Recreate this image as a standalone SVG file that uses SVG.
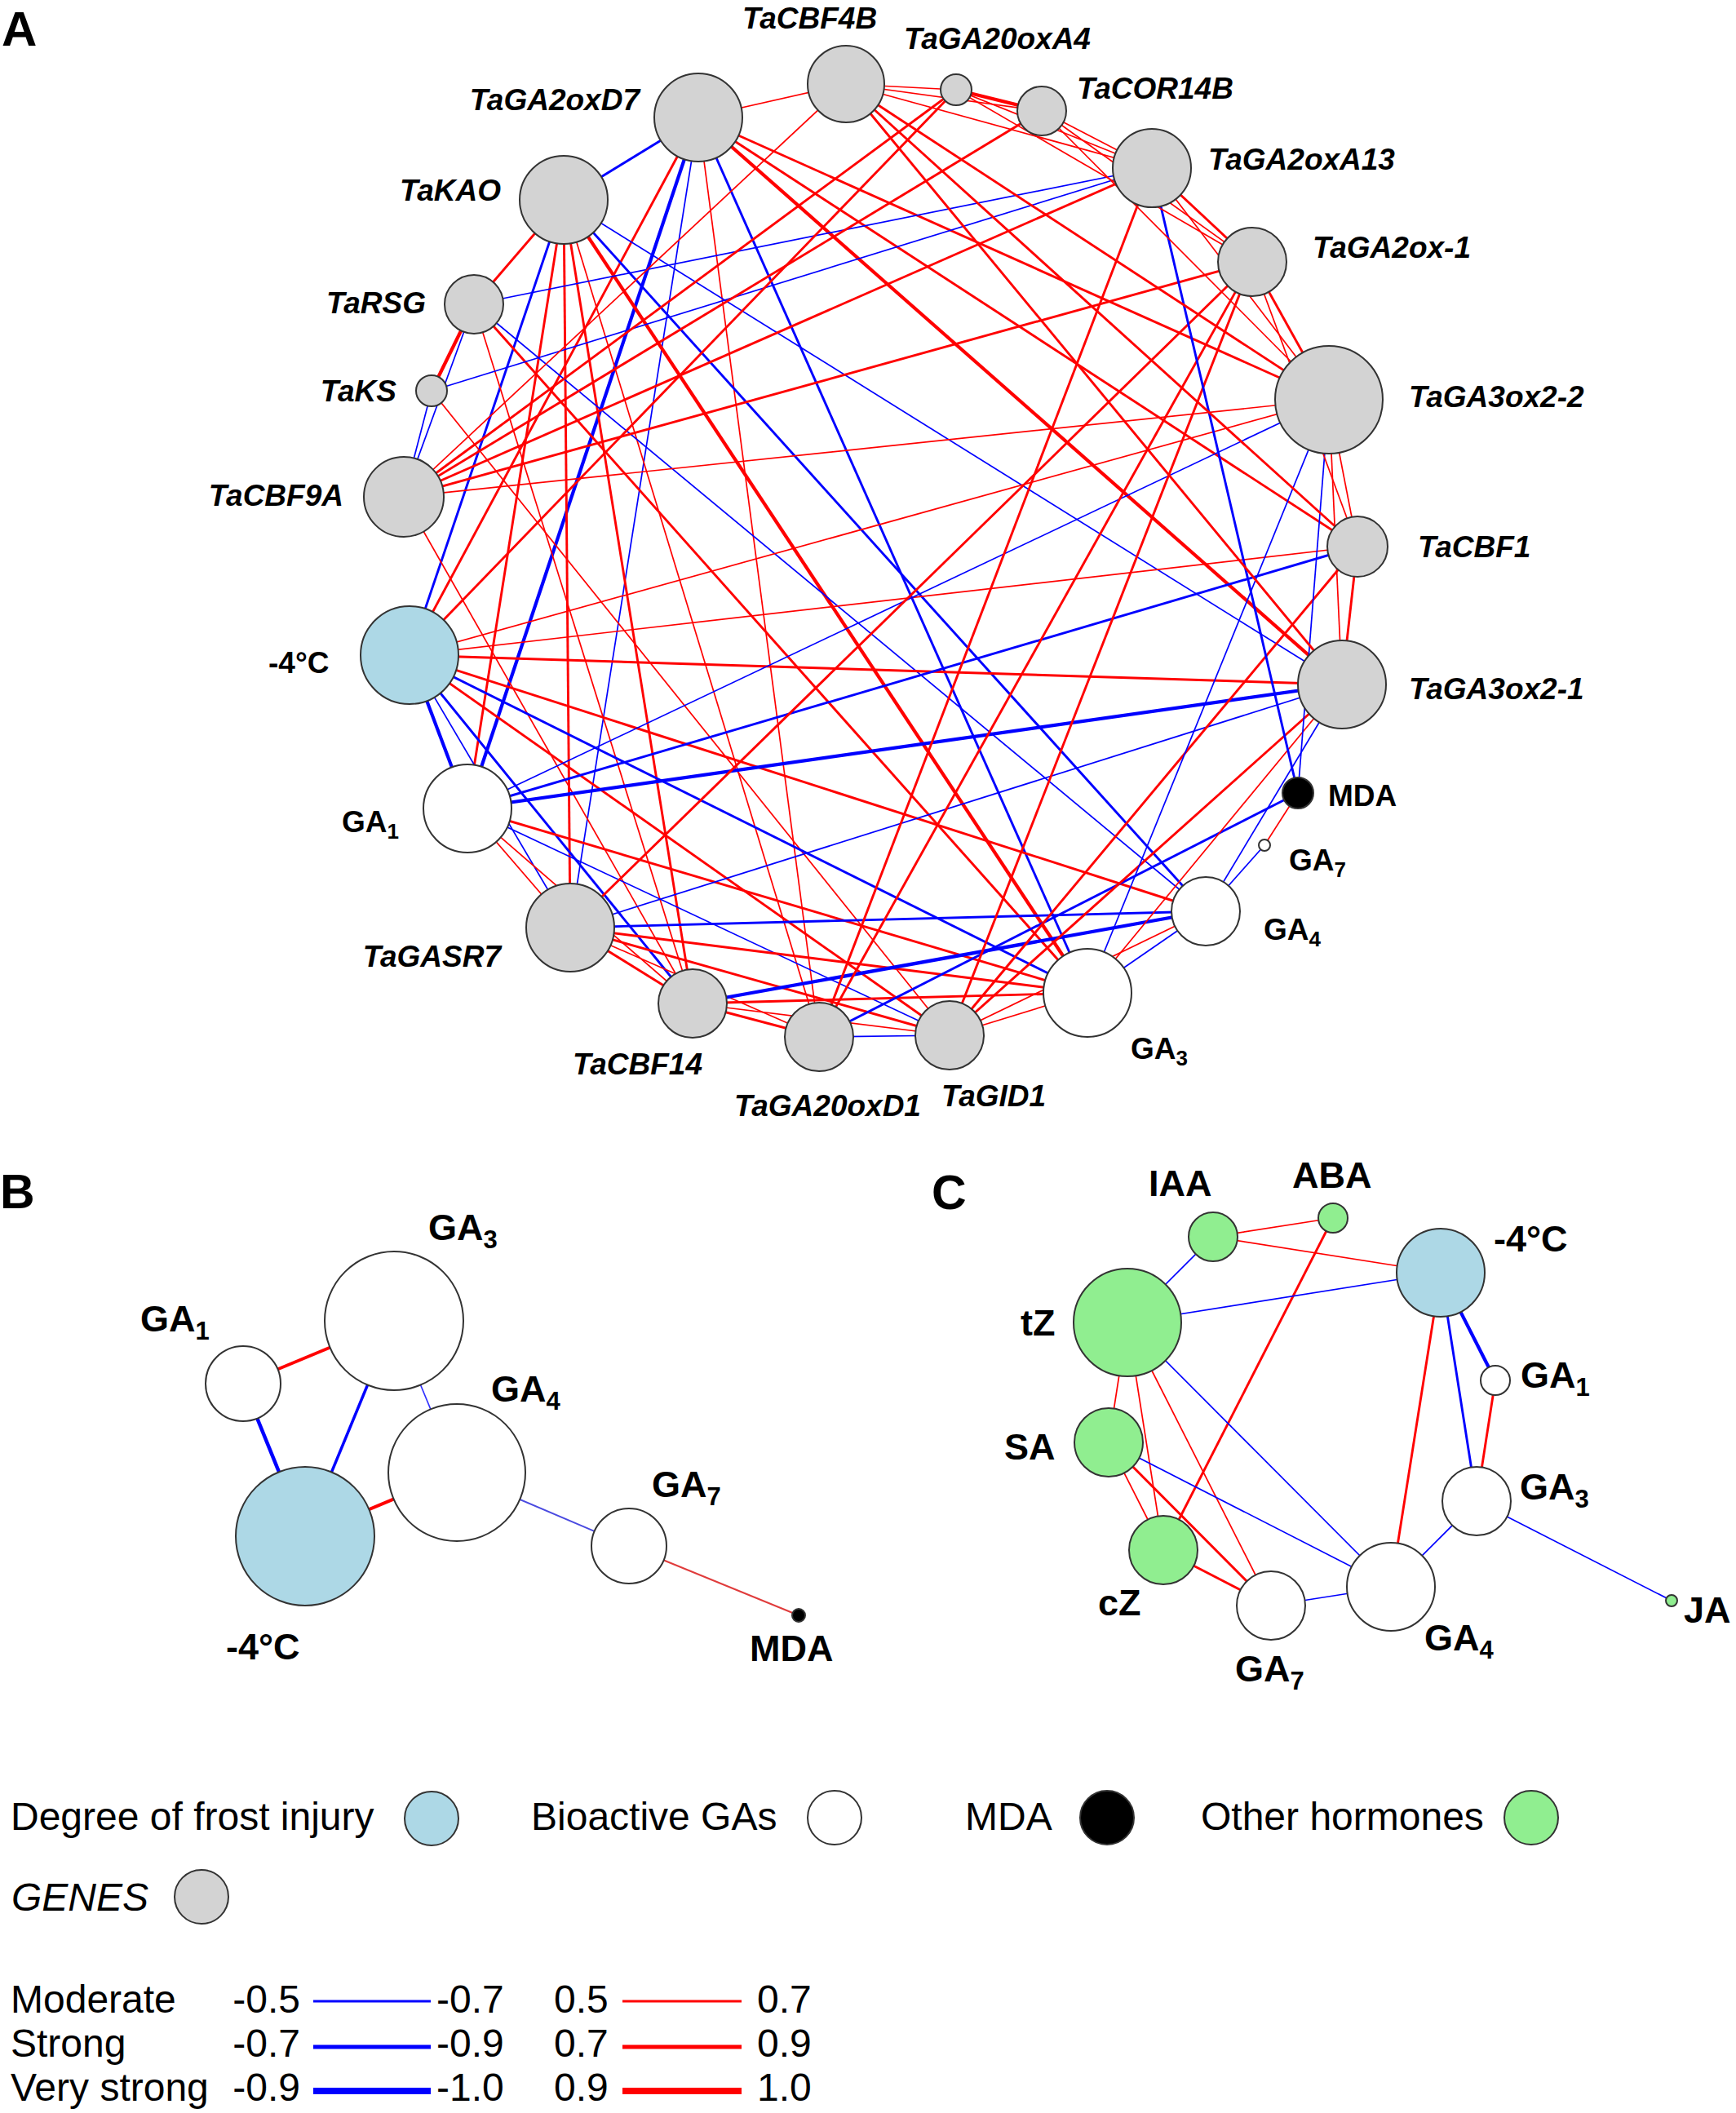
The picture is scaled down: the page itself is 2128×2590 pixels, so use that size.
<svg xmlns="http://www.w3.org/2000/svg" width="2128" height="2590" viewBox="0 0 2128 2590">
<style>
.r1{stroke:#ff0000;stroke-width:1.7}
.r2{stroke:#ff0000;stroke-width:2.9}
.r3{stroke:#ff0000;stroke-width:4.2}
.b1{stroke:#0000ff;stroke-width:1.7}
.b2{stroke:#0000ff;stroke-width:2.9}
.b3{stroke:#0000ff;stroke-width:4.2}
circle{stroke:#333;stroke-width:2}
.gy{fill:#d3d3d3}.wh{fill:#ffffff}.ice{fill:#add8e6}.grn{fill:#90ee90}.blk{fill:#000000}
text{font-family:"Liberation Sans",Arial,sans-serif;fill:#000}
.gi{font-size:37px;font-weight:bold;font-style:italic}
.gb{font-size:37px;font-weight:bold}
.pb{font-size:45px;font-weight:bold}
.pl{font-weight:bold}
.lg{font-size:48px}
</style>
<rect width="2128" height="2590" fill="#ffffff"/>

<text class="pl" x="2" y="56" font-size="60">A</text>
<text class="pl" x="0" y="1481" font-size="59">B</text>
<text class="pl" x="1142" y="1482" font-size="59">C</text>

<g id="connectors-A" fill="none">
<line class="b2" x1="856" y1="144" x2="691" y2="245"/>
<line class="r1" x1="856" y1="144" x2="1037" y2="103"/>
<line class="r2" x1="856" y1="144" x2="502" y2="803"/>
<line class="b3" x1="856" y1="144" x2="573" y2="991"/>
<line class="b1" x1="856" y1="144" x2="699" y2="1137"/>
<line class="r1" x1="856" y1="144" x2="1004" y2="1271"/>
<line class="b2" x1="856" y1="144" x2="1333" y2="1217"/>
<line class="r3" x1="856" y1="144" x2="1645" y2="839"/>
<line class="r2" x1="856" y1="144" x2="1664" y2="670"/>
<line class="r2" x1="856" y1="144" x2="1629" y2="490"/>
<line class="r2" x1="691" y1="245" x2="581" y2="373"/>
<line class="b2" x1="691" y1="245" x2="502" y2="803"/>
<line class="r2" x1="691" y1="245" x2="573" y2="991"/>
<line class="r2" x1="691" y1="245" x2="699" y2="1137"/>
<line class="r2" x1="691" y1="245" x2="849" y2="1230"/>
<line class="r1" x1="691" y1="245" x2="1004" y2="1271"/>
<line class="r3" x1="691" y1="245" x2="1333" y2="1217"/>
<line class="b2" x1="691" y1="245" x2="1478" y2="1117"/>
<line class="b1" x1="691" y1="245" x2="1645" y2="839"/>
<line class="b1" x1="581" y1="373" x2="495" y2="609"/>
<line class="b1" x1="581" y1="373" x2="1412" y2="206"/>
<line class="r1" x1="581" y1="373" x2="849" y2="1230"/>
<line class="r2" x1="581" y1="373" x2="1333" y2="1217"/>
<line class="b1" x1="581" y1="373" x2="1478" y2="1117"/>
<line class="r3" x1="529" y1="479" x2="581" y2="373"/>
<line class="b1" x1="529" y1="479" x2="495" y2="609"/>
<line class="b1" x1="529" y1="479" x2="1412" y2="206"/>
<line class="r1" x1="529" y1="479" x2="1164" y2="1269"/>
<line class="r1" x1="495" y1="609" x2="1037" y2="103"/>
<line class="r2" x1="495" y1="609" x2="1172" y2="110"/>
<line class="r2" x1="495" y1="609" x2="1277" y2="136"/>
<line class="r2" x1="495" y1="609" x2="1412" y2="206"/>
<line class="r2" x1="495" y1="609" x2="1535" y2="321"/>
<line class="r1" x1="495" y1="609" x2="1629" y2="490"/>
<line class="r1" x1="495" y1="609" x2="849" y2="1230"/>
<line class="r2" x1="502" y1="803" x2="1172" y2="110"/>
<line class="r1" x1="502" y1="803" x2="1629" y2="490"/>
<line class="r1" x1="502" y1="803" x2="1664" y2="670"/>
<line class="r2" x1="502" y1="803" x2="1645" y2="839"/>
<line class="r2" x1="502" y1="803" x2="1478" y2="1117"/>
<line class="b2" x1="502" y1="803" x2="1333" y2="1217"/>
<line class="r2" x1="502" y1="803" x2="1164" y2="1269"/>
<line class="b2" x1="502" y1="803" x2="849" y2="1230"/>
<line class="b3" x1="502" y1="803" x2="573" y2="991"/>
<line class="b1" x1="502" y1="803" x2="699" y2="1137"/>
<line class="b1" x1="573" y1="991" x2="1629" y2="490"/>
<line class="b2" x1="573" y1="991" x2="1664" y2="670"/>
<line class="b3" x1="573" y1="991" x2="1645" y2="839"/>
<line class="r2" x1="573" y1="991" x2="1333" y2="1217"/>
<line class="r1" x1="573" y1="991" x2="699" y2="1137"/>
<line class="r1" x1="573" y1="991" x2="849" y2="1230"/>
<line class="b1" x1="573" y1="991" x2="1164" y2="1269"/>
<line class="r2" x1="699" y1="1137" x2="1535" y2="321"/>
<line class="b1" x1="699" y1="1137" x2="1645" y2="839"/>
<line class="b2" x1="699" y1="1137" x2="1478" y2="1117"/>
<line class="r2" x1="699" y1="1137" x2="1333" y2="1217"/>
<line class="r2" x1="699" y1="1137" x2="1164" y2="1269"/>
<line class="r2" x1="699" y1="1137" x2="849" y2="1230"/>
<line class="r1" x1="699" y1="1137" x2="1004" y2="1271"/>
<line class="b3" x1="849" y1="1230" x2="1478" y2="1117"/>
<line class="r2" x1="849" y1="1230" x2="1333" y2="1217"/>
<line class="r2" x1="849" y1="1230" x2="1004" y2="1271"/>
<line class="r1" x1="849" y1="1230" x2="1164" y2="1269"/>
<line class="b2" x1="1004" y1="1271" x2="1591" y2="972"/>
<line class="b1" x1="1004" y1="1271" x2="1164" y2="1269"/>
<line class="r2" x1="1004" y1="1271" x2="1412" y2="206"/>
<line class="r2" x1="1004" y1="1271" x2="1535" y2="321"/>
<line class="r2" x1="1164" y1="1269" x2="1664" y2="670"/>
<line class="r2" x1="1164" y1="1269" x2="1645" y2="839"/>
<line class="r1" x1="1164" y1="1269" x2="1333" y2="1217"/>
<line class="r2" x1="1164" y1="1269" x2="1535" y2="321"/>
<line class="b1" x1="1478" y1="1117" x2="1550" y2="1036"/>
<line class="b1" x1="1478" y1="1117" x2="1333" y2="1217"/>
<line class="r1" x1="1478" y1="1117" x2="1164" y2="1269"/>
<line class="r1" x1="1333" y1="1217" x2="1645" y2="839"/>
<line class="b1" x1="1333" y1="1217" x2="1629" y2="490"/>
<line class="b2" x1="1591" y1="972" x2="1412" y2="206"/>
<line class="b1" x1="1591" y1="972" x2="1629" y2="490"/>
<line class="r1" x1="1591" y1="972" x2="1550" y2="1036"/>
<line class="r1" x1="1629" y1="490" x2="1645" y2="839"/>
<line class="r1" x1="1629" y1="490" x2="1664" y2="670"/>
<line class="r2" x1="1664" y1="670" x2="1645" y2="839"/>
<line class="r1" x1="1037" y1="103" x2="1172" y2="110"/>
<line class="r1" x1="1037" y1="103" x2="1277" y2="136"/>
<line class="r1" x1="1037" y1="103" x2="1412" y2="206"/>
<line class="r2" x1="1037" y1="103" x2="1629" y2="490"/>
<line class="r2" x1="1037" y1="103" x2="1664" y2="670"/>
<line class="r2" x1="1037" y1="103" x2="1645" y2="839"/>
<line class="r3" x1="1172" y1="110" x2="1277" y2="136"/>
<line class="r1" x1="1172" y1="110" x2="1412" y2="206"/>
<line class="r1" x1="1172" y1="110" x2="1535" y2="321"/>
<line class="r1" x1="1277" y1="136" x2="1412" y2="206"/>
<line class="r1" x1="1277" y1="136" x2="1535" y2="321"/>
<line class="r1" x1="1277" y1="136" x2="1629" y2="490"/>
<line class="r2" x1="1412" y1="206" x2="1535" y2="321"/>
<line class="r1" x1="1412" y1="206" x2="1629" y2="490"/>
<line class="r2" x1="1535" y1="321" x2="1629" y2="490"/>
<line class="r1" x1="1535" y1="321" x2="1664" y2="670"/>
<line class="b1" x1="1645" y1="839" x2="1478" y2="1117"/>
</g>

<g id="nodes-A">
<g id="A-TaCBF4B"><circle class="gy" cx="1037" cy="103" r="47"/><text class="gi" x="910" y="35">TaCBF4B</text></g>
<g id="A-TaGA20oxA4"><circle class="gy" cx="1172" cy="110" r="19"/><text class="gi" x="1108" y="60">TaGA20oxA4</text></g>
<g id="A-TaCOR14B"><circle class="gy" cx="1277" cy="136" r="30"/><text class="gi" x="1320" y="121">TaCOR14B</text></g>
<g id="A-TaGA2oxA13"><circle class="gy" cx="1412" cy="206" r="48"/><text class="gi" x="1481" y="208">TaGA2oxA13</text></g>
<g id="A-TaGA2ox-1"><circle class="gy" cx="1535" cy="321" r="42"/><text class="gi" x="1609" y="316">TaGA2ox-1</text></g>
<g id="A-TaGA3ox2-2"><circle class="gy" cx="1629" cy="490" r="66"/><text class="gi" x="1727" y="499">TaGA3ox2-2</text></g>
<g id="A-TaCBF1"><circle class="gy" cx="1664" cy="670" r="37"/><text class="gi" x="1738" y="683">TaCBF1</text></g>
<g id="A-TaGA3ox2-1"><circle class="gy" cx="1645" cy="839" r="54"/><text class="gi" x="1727" y="857">TaGA3ox2-1</text></g>
<g id="A-MDA"><circle class="blk" cx="1591" cy="972" r="19"/><text class="gb" x="1628" y="988">MDA</text></g>
<g id="A-GA7"><circle class="wh" cx="1550" cy="1036" r="7"/><text class="gb" x="1580" y="1067">GA<tspan font-size="26" dy="8">7</tspan></text></g>
<g id="A-GA4"><circle class="wh" cx="1478" cy="1117" r="42"/><text class="gb" x="1549" y="1152">GA<tspan font-size="26" dy="8">4</tspan></text></g>
<g id="A-GA3"><circle class="wh" cx="1333" cy="1217" r="54"/><text class="gb" x="1386" y="1298">GA<tspan font-size="26" dy="8">3</tspan></text></g>
<g id="A-TaGID1"><circle class="gy" cx="1164" cy="1269" r="42"/><text class="gi" x="1154" y="1356">TaGID1</text></g>
<g id="A-TaGA20oxD1"><circle class="gy" cx="1004" cy="1271" r="42"/><text class="gi" x="900" y="1368">TaGA20oxD1</text></g>
<g id="A-TaCBF14"><circle class="gy" cx="849" cy="1230" r="42"/><text class="gi" x="702" y="1317">TaCBF14</text></g>
<g id="A-TaGASR7"><circle class="gy" cx="699" cy="1137" r="54"/><text class="gi" x="614" y="1185" text-anchor="end">TaGASR7</text></g>
<g id="A-GA1"><circle class="wh" cx="573" cy="991" r="54"/><text class="gb" x="419" y="1020">GA<tspan font-size="26" dy="8">1</tspan></text></g>
<g id="A-frost"><circle class="ice" cx="502" cy="803" r="60"/><text class="gb" x="329" y="825">-4°C</text></g>
<g id="A-TaCBF9A"><circle class="gy" cx="495" cy="609" r="49"/><text class="gi" x="421" y="620" text-anchor="end">TaCBF9A</text></g>
<g id="A-TaKS"><circle class="gy" cx="529" cy="479" r="19"/><text class="gi" x="486" y="492" text-anchor="end">TaKS</text></g>
<g id="A-TaRSG"><circle class="gy" cx="581" cy="373" r="36"/><text class="gi" x="522" y="384" text-anchor="end">TaRSG</text></g>
<g id="A-TaKAO"><circle class="gy" cx="691" cy="245" r="54"/><text class="gi" x="614" y="246" text-anchor="end">TaKAO</text></g>
<g id="A-TaGA2oxD7"><circle class="gy" cx="856" cy="144" r="54"/><text class="gi" x="784" y="135" text-anchor="end">TaGA2oxD7</text></g>
</g>

<g id="connectors-B" fill="none">
<line stroke="#ff0000" stroke-width="4" x1="298" y1="1696" x2="483" y2="1619"/>
<line stroke="#0000ff" stroke-width="4.5" x1="298" y1="1696" x2="374" y2="1883"/>
<line stroke="#0000ff" stroke-width="3.5" x1="483" y1="1619" x2="374" y2="1883"/>
<line stroke="#3030ff" stroke-width="1.7" x1="483" y1="1619" x2="560" y2="1805"/>
<line stroke="#ff0000" stroke-width="4" x1="374" y1="1883" x2="560" y2="1805"/>
<line stroke="#4a4ae0" stroke-width="2" x1="560" y1="1805" x2="771" y2="1895"/>
<line stroke="#e03c3c" stroke-width="2" x1="771" y1="1895" x2="979" y2="1980"/>
</g>
<g id="nodes-B">
<g id="B-GA3"><circle class="wh" cx="483" cy="1619" r="85"/><text class="pb" x="525" y="1520">GA<tspan font-size="31" dy="10">3</tspan></text></g>
<g id="B-GA1"><circle class="wh" cx="298" cy="1696" r="46"/><text class="pb" x="172" y="1632">GA<tspan font-size="31" dy="10">1</tspan></text></g>
<g id="B-frost"><circle class="ice" cx="374" cy="1883" r="85"/><text class="pb" x="277" y="2034">-4°C</text></g>
<g id="B-GA4"><circle class="wh" cx="560" cy="1805" r="84"/><text class="pb" x="602" y="1718">GA<tspan font-size="31" dy="10">4</tspan></text></g>
<g id="B-GA7"><circle class="wh" cx="771" cy="1895" r="46"/><text class="pb" x="799" y="1835">GA<tspan font-size="31" dy="10">7</tspan></text></g>
<g id="B-MDA"><circle class="blk" cx="979" cy="1980" r="8"/><text class="pb" x="919" y="2036">MDA</text></g>
</g>

<g id="connectors-C" fill="none">
<line class="r1" x1="1487" y1="1516" x2="1634" y2="1493"/>
<line class="r1" x1="1487" y1="1516" x2="1766" y2="1560"/>
<line class="b1" x1="1487" y1="1516" x2="1382" y2="1621"/>
<line class="r2" x1="1634" y1="1493" x2="1426" y2="1900"/>
<line class="b1" x1="1382" y1="1621" x2="1766" y2="1560"/>
<line class="r1" x1="1382" y1="1621" x2="1359" y2="1768"/>
<line class="r1" x1="1382" y1="1621" x2="1426" y2="1900"/>
<line class="r1" x1="1382" y1="1621" x2="1558" y2="1968"/>
<line class="b1" x1="1382" y1="1621" x2="1705" y2="1945"/>
<line class="r1" x1="1359" y1="1768" x2="1426" y2="1900"/>
<line class="r2" x1="1359" y1="1768" x2="1558" y2="1968"/>
<line class="b1" x1="1359" y1="1768" x2="1705" y2="1945"/>
<line class="r2" x1="1426" y1="1900" x2="1558" y2="1968"/>
<line class="b1" x1="1558" y1="1968" x2="1705" y2="1945"/>
<line class="b3" x1="1766" y1="1560" x2="1833" y2="1692"/>
<line class="b2" x1="1766" y1="1560" x2="1810" y2="1840"/>
<line class="r2" x1="1766" y1="1560" x2="1705" y2="1945"/>
<line class="r2" x1="1833" y1="1692" x2="1810" y2="1840"/>
<line class="b1" x1="1810" y1="1840" x2="1705" y2="1945"/>
<line class="b1" x1="1810" y1="1840" x2="2049" y2="1962"/>
</g>
<g id="nodes-C">
<g id="C-IAA"><circle class="grn" cx="1487" cy="1516" r="30"/><text class="pb" x="1408" y="1466">IAA</text></g>
<g id="C-ABA"><circle class="grn" cx="1634" cy="1493" r="18"/><text class="pb" x="1584" y="1456">ABA</text></g>
<g id="C-frost"><circle class="ice" cx="1766" cy="1560" r="54"/><text class="pb" x="1831" y="1534">-4°C</text></g>
<g id="C-tZ"><circle class="grn" cx="1382" cy="1621" r="66"/><text class="pb" x="1251" y="1637">tZ</text></g>
<g id="C-GA1"><circle class="wh" cx="1833" cy="1692" r="18"/><text class="pb" x="1864" y="1701">GA<tspan font-size="31" dy="10">1</tspan></text></g>
<g id="C-SA"><circle class="grn" cx="1359" cy="1768" r="42"/><text class="pb" x="1231" y="1789">SA</text></g>
<g id="C-GA3"><circle class="wh" cx="1810" cy="1840" r="42"/><text class="pb" x="1863" y="1838">GA<tspan font-size="31" dy="10">3</tspan></text></g>
<g id="C-cZ"><circle class="grn" cx="1426" cy="1900" r="42"/><text class="pb" x="1346" y="1980">cZ</text></g>
<g id="C-GA7"><circle class="wh" cx="1558" cy="1968" r="42"/><text class="pb" x="1514" y="2061">GA<tspan font-size="31" dy="10">7</tspan></text></g>
<g id="C-GA4"><circle class="wh" cx="1705" cy="1945" r="54"/><text class="pb" x="1746" y="2023">GA<tspan font-size="31" dy="10">4</tspan></text></g>
<g id="C-JA"><circle class="grn" cx="2049" cy="1962" r="7"/><text class="pb" x="2064" y="1989">JA</text></g>
</g>

<g id="legend">
<text class="lg" x="13" y="2243">Degree of frost injury</text><circle class="ice" cx="529" cy="2229" r="33"/>
<text class="lg" x="651" y="2243">Bioactive GAs</text><circle class="wh" cx="1023" cy="2228" r="33"/>
<text class="lg" x="1183" y="2243">MDA</text><circle class="blk" cx="1357" cy="2228" r="33"/>
<text class="lg" x="1472" y="2243">Other hormones</text><circle class="grn" cx="1877" cy="2228" r="33"/>
<text class="lg" x="14" y="2342" font-style="italic">GENES</text><circle class="gy" cx="247" cy="2325" r="33"/>
<g id="legend-scale">
<text class="lg" x="13" y="2467">Moderate</text>
<text class="lg" x="368" y="2467" text-anchor="end">-0.5</text>
<line x1="384" y1="2453" x2="528" y2="2453" stroke="#0000ff" stroke-width="3"/>
<text class="lg" x="535" y="2467">-0.7</text>
<text class="lg" x="679" y="2467">0.5</text>
<line x1="763" y1="2453" x2="909" y2="2453" stroke="#ff0000" stroke-width="3"/>
<text class="lg" x="928" y="2467">0.7</text>
<text class="lg" x="13" y="2521">Strong</text>
<text class="lg" x="368" y="2521" text-anchor="end">-0.7</text>
<line x1="384" y1="2509" x2="528" y2="2509" stroke="#0000ff" stroke-width="5"/>
<text class="lg" x="535" y="2521">-0.9</text>
<text class="lg" x="679" y="2521">0.7</text>
<line x1="763" y1="2509" x2="909" y2="2509" stroke="#ff0000" stroke-width="5"/>
<text class="lg" x="928" y="2521">0.9</text>
<text class="lg" x="13" y="2575">Very strong</text>
<text class="lg" x="368" y="2575" text-anchor="end">-0.9</text>
<line x1="384" y1="2563" x2="528" y2="2563" stroke="#0000ff" stroke-width="8"/>
<text class="lg" x="535" y="2575">-1.0</text>
<text class="lg" x="679" y="2575">0.9</text>
<line x1="763" y1="2563" x2="909" y2="2563" stroke="#ff0000" stroke-width="8"/>
<text class="lg" x="928" y="2575">1.0</text>
</g>
</g>
</svg>
